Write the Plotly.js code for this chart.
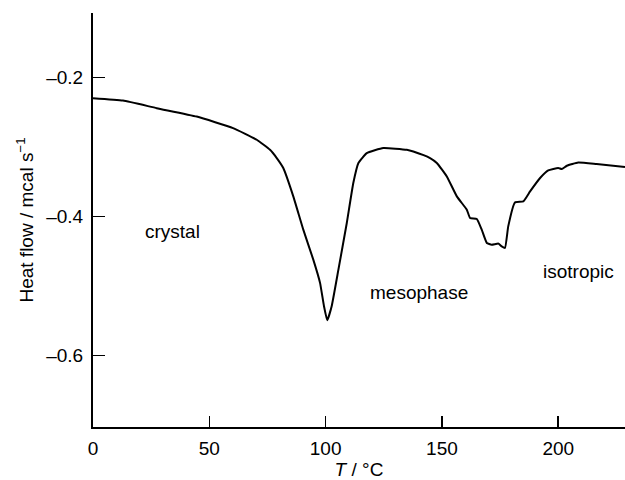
<!DOCTYPE html>
<html>
<head>
<meta charset="utf-8">
<script src="https://cdn.plot.ly/plotly-3.0.1.min.js"></script>
<style>html,body{margin:0;padding:0;background:#fff;}#chart{width:625px;height:480px;}</style>
</head>
<body>
<div id="chart"></div>
<script>
// Temperature (°C)
var temperature = [0, 12.9, 27.4, 44.6, 60.2, 70.4, 76.1, 79.0, 81.8, 86.1, 90.4, 94.7, 97.6, 99.3, 100.7,
  102.6, 105.5, 109.1, 111.9, 114.1, 117.7, 124.8, 134.9, 137.7, 144.9, 147.8, 152.1, 156.4, 160.7,
  162.1, 165.0, 167.1, 169.3, 171.4, 174.3, 175.7, 177.1, 178.5, 181.4, 185.0, 187.9, 192.2, 195.7,
  200.0, 201.5, 203.7, 208.6, 216.5, 228.7];
// Heat flow (mcal s^-1)
var heatFlow = [-0.2296, -0.2331, -0.2440, -0.2561, -0.2727, -0.2895, -0.3039, -0.3158, -0.3302, -0.3710,
  -0.4189, -0.4620, -0.4955, -0.5291, -0.5493, -0.5291, -0.4764, -0.4093, -0.3518, -0.3230, -0.3087,
  -0.3015, -0.3039, -0.3064, -0.3158, -0.3230, -0.3423, -0.3710, -0.3902, -0.4021, -0.4035, -0.4189,
  -0.4380, -0.4405, -0.4390, -0.4429, -0.4452, -0.4142, -0.3797, -0.3782, -0.3639, -0.3446, -0.3337,
  -0.3302, -0.3317, -0.3269, -0.3222, -0.3245, -0.3288];
var xTicks = [0, 50, 100, 150, 200];
var yTicks = [-0.6, -0.4, -0.2];
var phaseLabels = ["crystal", "mesophase", "isotropic"];

var font = {family: "Liberation Sans, Arial, sans-serif", size: 19, color: "#000"};

var trace = {
  x: temperature, y: heatFlow, type: "scatter", mode: "lines",
  line: {color: "#000", width: 2, shape: "spline", smoothing: 0.4},
  hoverinfo: "skip"
};

var layout = {
  width: 625, height: 480,
  margin: {l: 93, r: 0, t: 13, b: 53},
  paper_bgcolor: "#fff", plot_bgcolor: "#fff",
  showlegend: false,
  font: font,
  xaxis: {
    range: [0, 228.7], tickvals: xTicks, ticktext: xTicks.map(String),
    showline: true, linecolor: "#000", linewidth: 2,
    ticks: "inside", ticklen: 11, tickwidth: 1.5, tickcolor: "#000",
    showgrid: false, zeroline: false, ticklabelstandoff: 3,
    tickfont: font,
    title: {text: "<i>T</i> / °C", font: font, standoff: 2}
  },
  yaxis: {
    range: [-0.703, -0.107], tickvals: yTicks, ticktext: yTicks.map(function(v){return "\u2013" + Math.abs(v).toFixed(1);}),
    showline: true, linecolor: "#000", linewidth: 2,
    ticks: "inside", ticklen: 12, tickwidth: 1.5, tickcolor: "#000",
    showgrid: false, zeroline: false, ticklabelstandoff: 4,
    tickfont: font,
    title: {text: "Heat flow / mcal s<sup>\u22121</sup>", font: font, standoff: 8}
  },
  annotations: [
    {x: 34.2, y: -0.4213, text: phaseLabels[0], showarrow: false, font: font, xref: "x", yref: "y"},
    {x: 140.2, y: -0.5099, text: phaseLabels[1], showarrow: false, font: font, xref: "x", yref: "y"},
    {x: 208.5, y: -0.4788, text: phaseLabels[2], showarrow: false, font: font, xref: "x", yref: "y"}
  ]
};

Plotly.newPlot("chart", [trace], layout, {staticPlot: true, displayModeBar: false});
</script>
</body>
</html>
